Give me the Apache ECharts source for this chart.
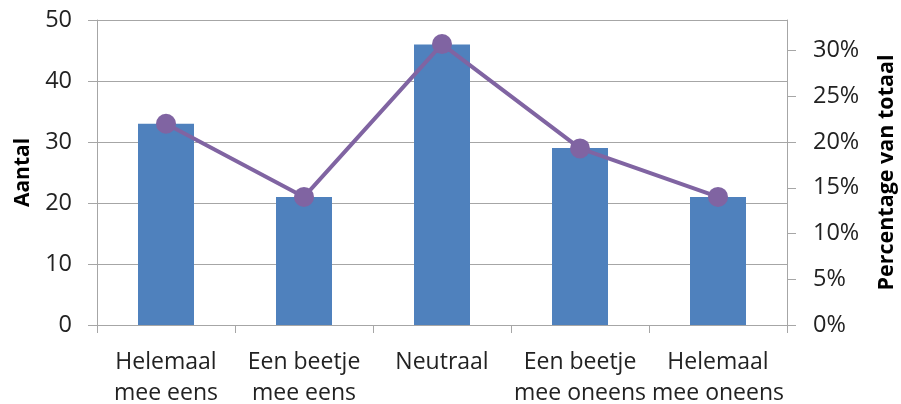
<!DOCTYPE html>
<html>
<head>
<meta charset="utf-8">
<script src="https://cdn.jsdelivr.net/npm/echarts@6/dist/echarts.min.js"></script>
<style>
  html, body { margin: 0; padding: 0; background: #fff; }
  #chart { width: 901px; height: 404px; }
</style>
</head>
<body>
<div id="chart"></div>
<script>
// Answer categories (two-line labels)
const categories = [
  'Helemaal\nmee eens',
  'Een beetje\nmee eens',
  'Neutraal',
  'Een beetje\nmee oneens',
  'Helemaal\nmee oneens'
];
// Number of responses per category
const counts = [33, 21, 46, 29, 21];
// Share of total responses per category
const shares = [0.22, 0.14, 0.307, 0.193, 0.14];
// Tick values on the right-hand percentage axis
const pctTicks = [0, 0.05, 0.10, 0.15, 0.20, 0.25, 0.30];

const FONT = 'Open Sans';
const TEXT = '#222222';
const GRID_GRAY = '#a6a6a6';

const chart = echarts.init(document.getElementById('chart'), null, { renderer: 'canvas' });
chart.setOption({
  animation: false,
  textStyle: { fontFamily: FONT },
  grid: { left: 97, right: 114, top: 20, bottom: 79, outerBoundsMode: 'none', containLabel: false },
  xAxis: {
    type: 'category',
    data: categories,
    axisLine: { lineStyle: { color: GRID_GRAY, width: 1 } },
    axisTick: { show: true, alignWithLabel: false, length: 8, lineStyle: { color: GRID_GRAY } },
    axisLabel: { color: TEXT, fontSize: 23, fontFamily: FONT, lineHeight: 31, margin: 22, interval: 0 }
  },
  yAxis: [
    {
      type: 'value',
      min: 0, max: 50, interval: 10,
      name: 'Aantal',
      nameLocation: 'middle',
      nameGap: 63,
      nameTextStyle: { color: '#000', fontSize: 21, fontWeight: 'bold', fontFamily: FONT },
      axisLine: { show: true, lineStyle: { color: GRID_GRAY } },
      axisTick: { show: true, length: 9, lineStyle: { color: GRID_GRAY } },
      axisLabel: { color: TEXT, fontSize: 23.5, fontFamily: FONT, margin: 25 },
      splitLine: { show: true, lineStyle: { color: GRID_GRAY, width: 1 } }
    },
    {
      type: 'value',
      min: 0, max: 1 / 3,
      position: 'right',
      name: 'Percentage van totaal',
      nameLocation: 'middle',
      nameGap: 89,
      nameRotate: 90,
      nameTextStyle: { color: '#000', fontSize: 21.5, fontWeight: 'bold', fontFamily: FONT },
      axisLine: { show: true, lineStyle: { color: GRID_GRAY } },
      axisTick: { show: true, length: 9, customValues: pctTicks, lineStyle: { color: GRID_GRAY } },
      axisLabel: {
        color: TEXT, fontSize: 23.5, fontFamily: FONT, margin: 26,
        customValues: pctTicks,
        formatter: v => Math.round(v * 100) + '%'
      },
      splitLine: { show: false }
    }
  ],
  series: [
    {
      type: 'bar',
      data: counts,
      yAxisIndex: 0,
      barWidth: 56,
      itemStyle: { color: '#4f81bd' }
    },
    {
      type: 'line',
      data: shares,
      yAxisIndex: 1,
      symbol: 'circle',
      symbolSize: 20,
      lineStyle: { color: '#8064a2', width: 4 },
      itemStyle: { color: '#8064a2' }
    }
  ]
});
</script>
</body>
</html>
